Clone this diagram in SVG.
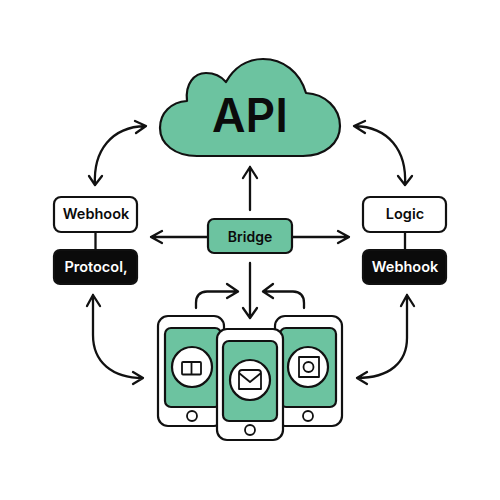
<svg xmlns="http://www.w3.org/2000/svg" width="500" height="500" viewBox="0 0 500 500">
<style>
.c{fill:none;stroke:#111;stroke-width:2.3;stroke-linecap:round;stroke-linejoin:round}
.o{stroke:#111;stroke-width:2.2;stroke-linejoin:round}
.g{fill:#6cc3a0}.w{fill:#fff}.k{fill:#0b0b0b}
.i{fill:none;stroke:#111;stroke-width:1.8;stroke-linejoin:round}
text{font-family:"Inter","Liberation Sans",sans-serif;font-weight:600;text-anchor:middle;fill:#0b0b0b}
text.l{fill:#fff}
</style>
<rect width="500" height="500" fill="#fff"/>
<g id="connectors">
<path class="c" d="M95 185C93 150 112 127 145 126M135 121L146 126L136 133M89 176L95 185L102 176"/>
<path class="c" d="M405 185C407 150 388 127 355 126M365 121L354 126L365 133M398 176L405 185L412 176"/>
<path class="c" d="M95.500 232V250M405 232V250"/>
<path class="c" d="M208 237H151M162 231L151 237L162 243"/>
<path class="c" d="M293 237H349M338 231L349 237L338 243"/>
<path class="c" d="M250 210V167M243 178L250 167L257 178"/>
<path class="c" d="M250 263V318M243 308L250 318L257 308"/>
<path class="c" d="M196 308V303Q196 292 207 291.500H237M227 284L238 291.500L227 298"/>
<path class="c" d="M304 308V303Q304 292 293 291.500H264M273 284L263 291.500L273 298"/>
<path class="c" d="M93 295V335C93 362 112 378 143 378M87 306L93 295L100 306M133 372L143 378L133 384"/>
<path class="c" d="M407 295V338C407 362 390 378 357 378M401 306L407 295L414 306M367 372L357 378L367 384"/>
</g>
<g id="cloud"><path class="o g" d="M197 156H303C325 156 340 143 340 126C340 108 325 94 306 93C300 72 283 59 263 59C247 59 234 68 226 82C220 75 213 73 206 73C194 73 185 84 187 101C171 102 160 113 160 128C160 144 175 156 197 156Z"/>
<text x="250" y="132" font-size="46" font-weight="700">API</text></g>
<g id="bridge"><rect class="o g" x="208" y="219" width="84" height="34" rx="6"/><text x="250" y="242" font-size="14">Bridge</text></g>
<g id="webhook-left"><rect class="o w" x="54" y="197" width="83" height="35" rx="7"/><text x="96" y="219" font-size="14.500">Webhook</text></g>
<g id="protocol"><rect class="o k" x="54" y="250" width="83" height="34" rx="6"/><text class="l" x="96" y="272" font-size="14.500">Protocol,</text></g>
<g id="logic"><rect class="o w" x="363" y="197" width="83" height="35" rx="7"/><text x="405" y="219" font-size="14.500">Logic</text></g>
<g id="webhook-right"><rect class="o k" x="363" y="250" width="83" height="34" rx="6"/><text class="l" x="405" y="272" font-size="14.500">Webhook</text></g>
<g id="phone-left"><rect class="o w" x="158" y="316" width="66" height="110" rx="10"/><rect class="o g" x="165" y="328" width="56" height="79" rx="6"/><circle class="o w" cx="192" cy="367" r="20"/><rect class="i" x="182" y="362" width="19" height="12.500" rx="1"/><path class="i" d="M191.500 362V374"/><circle class="i" cx="192" cy="416" r="5"/></g>
<g id="phone-right"><rect class="o w" x="275" y="316" width="67" height="110" rx="10"/><rect class="o g" x="280" y="328" width="56" height="79" rx="6"/><circle class="o w" cx="308" cy="367" r="20"/><rect class="i" x="299" y="357" width="20" height="20"/><circle class="i" cx="308.500" cy="367" r="5"/><circle class="i" cx="308" cy="416" r="5"/></g>
<g id="phone-center"><rect class="o w" x="217" y="329" width="66" height="111" rx="10"/><rect class="o g" x="223" y="341" width="54" height="80" rx="6"/><circle class="o w" cx="250" cy="380" r="20"/><path class="i" d="M239 373Q239 370 242 370H258Q261 370 261 373V389H239ZM239 373L250 382L261 373"/><circle class="i" cx="250" cy="430" r="5"/></g>
</svg>
